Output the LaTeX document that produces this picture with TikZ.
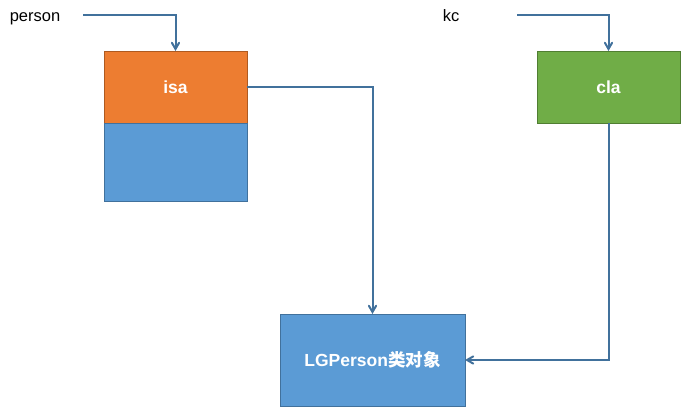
\documentclass[tikz,border=0pt]{standalone}
\usepackage{fontspec}
\setmainfont{Liberation Sans}
\newfontfamily\cjk{Noto Sans CJK SC}
\usetikzlibrary{arrows}

\definecolor{isaorange}{HTML}{ED7D31}
\definecolor{isaedge}{HTML}{AE5A21}
\definecolor{objblue}{HTML}{5B9BD5}
\definecolor{objedge}{HTML}{41719C}
\definecolor{clagreen}{HTML}{70AD47}
\definecolor{claedge}{HTML}{507E32}
\definecolor{linkblue}{HTML}{41719C}

\begin{document}
\begin{tikzpicture}[x=1pt,y=-1pt,>=angle 60,
                    box/.style={rectangle,inner sep=0pt,outer sep=0pt,line width=0.8pt,
                                text=white,font=\fontsize{17.5}{20}\selectfont\bfseries},
                    varname/.style={anchor=base,font=\fontsize{16.5}{19}\selectfont,text=black},
                    link/.style={->,draw=linkblue,line width=2pt}]
    \useasboundingbox (0,0) rectangle (681,407);

                \node[varname] (person) at (35,21.5) {person};
                \node[varname] (kc) at (451,21.5) {kc};
                \coordinate (pstart) at (83,15);
                \coordinate (kstart) at (517,15);

                \node[box,fill=isaorange,draw=isaedge,minimum width=143pt,minimum height=72pt]
                    (isa) at (175.5,87) {isa};
                \node[box,fill=objblue,draw=objedge,minimum width=143pt,minimum height=78pt]
                    (rest) at (175.5,162) {};
                \node[box,fill=clagreen,draw=claedge,minimum width=143pt,minimum height=72pt]
                    (cla) at (608.5,87) {cla};
                \node[box,fill=objblue,draw=objedge,minimum width=185pt,minimum height=92pt]
                    (obj) at (372.5,360) {LGPerson{\cjk 类对象}};

    \draw[link] (pstart) -| (isa.north);
    \draw[link] (kstart) -| (cla.north);
    \draw[link] (isa.east) -| (obj.north);
    \draw[link] (cla.south) |- (obj.east);
            \end{tikzpicture}
\end{document}
